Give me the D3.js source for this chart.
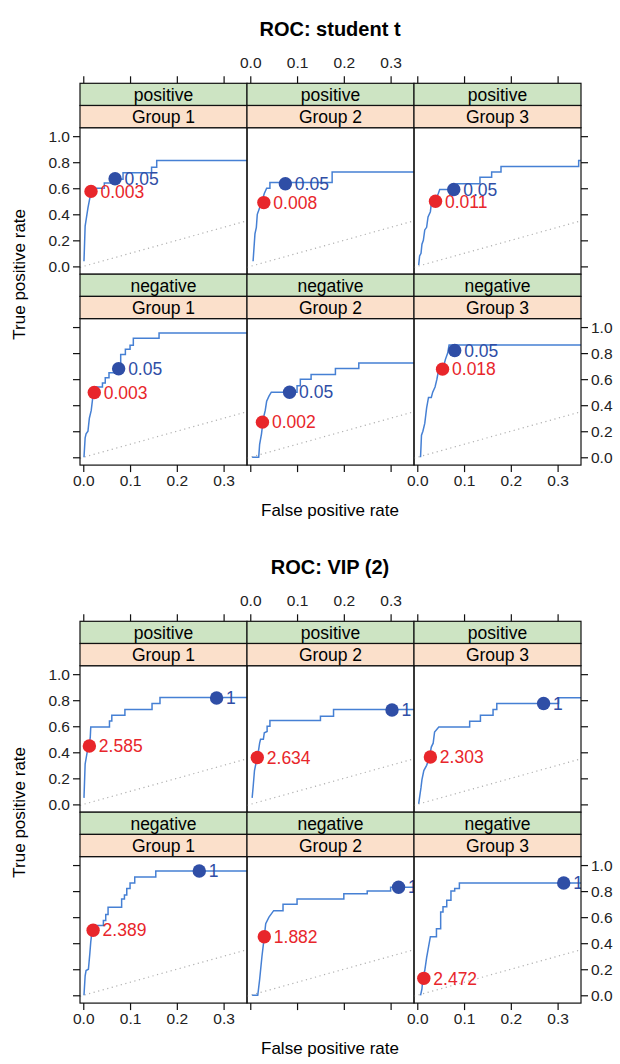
<!DOCTYPE html>
<html>
<head>
<meta charset="utf-8">
<script src="https://cdn.jsdelivr.net/npm/d3@7"></script>
<style>
  body { margin: 0; background: #fff; }
  text { font-family: "Liberation Sans", Arial, sans-serif; }
</style>
</head>
<body>
<div id="my_dataviz"></div>
<script>
// panel labels and axis ticks
var groups = ["Group 1", "Group 2", "Group 3"];
var signs = ["positive", "negative"];
var xTicks = [0, 0.1, 0.2, 0.3];
var yTicks = [0, 0.2, 0.4, 0.6, 0.8, 1.0];

// ROC: student t  -- curves as [false positive rate, true positive rate]
var tPos1 = [[0.0015,0.04],[0.004,0.31],[0.01,0.45],[0.017,0.58],[0.02,0.6],[0.045,0.6],[0.045,0.64],[0.06,0.64],[0.06,0.67],[0.085,0.67],[0.085,0.72],[0.146,0.72],[0.146,0.762],[0.157,0.762],[0.157,0.813],[0.35,0.813]];
var tPos2 = [[0.006,0.04],[0.01,0.25],[0.013,0.3],[0.015,0.4],[0.02,0.45],[0.025,0.5],[0.03,0.56],[0.035,0.6],[0.042,0.6],[0.042,0.645],[0.175,0.645],[0.175,0.725],[0.35,0.725]];
var tPos3 = [[0.003,0.01],[0.005,0.08],[0.008,0.1],[0.01,0.17],[0.013,0.2],[0.016,0.28],[0.02,0.3],[0.023,0.38],[0.028,0.42],[0.03,0.48],[0.035,0.5],[0.04,0.52],[0.045,0.56],[0.048,0.59],[0.085,0.59],[0.085,0.635],[0.134,0.635],[0.134,0.685],[0.159,0.685],[0.159,0.724],[0.179,0.724],[0.179,0.767],[0.345,0.767],[0.345,0.813],[0.35,0.813]];
var tNeg1 = [[0.0015,0],[0.004,0.15],[0.006,0.18],[0.01,0.2],[0.013,0.3],[0.017,0.36],[0.02,0.45],[0.023,0.54],[0.041,0.54],[0.041,0.57],[0.047,0.57],[0.047,0.61],[0.055,0.61],[0.055,0.65],[0.068,0.65],[0.068,0.68],[0.08,0.72],[0.08,0.79],[0.09,0.79],[0.09,0.83],[0.1,0.83],[0.1,0.86],[0.107,0.86],[0.107,0.915],[0.162,0.915],[0.162,0.954],[0.35,0.954]];
var tNeg2 = [[0.004,0],[0.018,0],[0.02,0.1],[0.024,0.18],[0.028,0.3],[0.032,0.36],[0.035,0.43],[0.04,0.47],[0.045,0.5],[0.1,0.5],[0.1,0.55],[0.107,0.55],[0.107,0.6],[0.13,0.6],[0.13,0.635],[0.182,0.635],[0.182,0.682],[0.232,0.682],[0.232,0.725],[0.35,0.725]];
var tNeg3 = [[0.007,0],[0.009,0.17],[0.012,0.2],[0.016,0.26],[0.02,0.38],[0.024,0.46],[0.03,0.46],[0.033,0.5],[0.038,0.54],[0.042,0.6],[0.045,0.66],[0.055,0.68],[0.06,0.75],[0.065,0.8],[0.068,0.862],[0.35,0.862]];
var tRed = [[0.0165,0.576],[0.029,0.49],[0.039,0.5],[0.0235,0.497],[0.026,0.27],[0.054,0.677]];
var tRedLab = ["0.003","0.008","0.011","0.003","0.002","0.018"];
var tBlue = [[0.068,0.673],[0.075,0.635],[0.078,0.59],[0.0756,0.68],[0.084,0.5],[0.08,0.82]];
var tBlueLab = ["0.05","0.05","0.05","0.05","0.05","0.05"];

// ROC: VIP (2)
var vPos1 = [[0.0015,0.05],[0.004,0.31],[0.009,0.415],[0.013,0.45],[0.015,0.52],[0.016,0.595],[0.056,0.595],[0.056,0.64],[0.061,0.64],[0.061,0.685],[0.089,0.685],[0.089,0.728],[0.147,0.728],[0.147,0.775],[0.164,0.775],[0.164,0.82],[0.35,0.82]];
var vPos2 = [[0.004,0.05],[0.006,0.13],[0.009,0.26],[0.013,0.33],[0.017,0.4],[0.02,0.47],[0.022,0.5],[0.028,0.5],[0.03,0.55],[0.036,0.56],[0.036,0.6],[0.042,0.6],[0.042,0.645],[0.15,0.645],[0.15,0.677],[0.178,0.677],[0.178,0.728],[0.35,0.728]];
var vPos3 = [[0.003,0.005],[0.005,0.056],[0.008,0.13],[0.01,0.19],[0.014,0.26],[0.02,0.3],[0.026,0.36],[0.03,0.44],[0.034,0.47],[0.037,0.556],[0.046,0.595],[0.112,0.595],[0.112,0.638],[0.135,0.638],[0.135,0.685],[0.162,0.685],[0.162,0.728],[0.17,0.728],[0.17,0.775],[0.302,0.775],[0.302,0.818],[0.35,0.818]];
var vNeg1 = [[0.0015,0],[0.004,0.15],[0.006,0.19],[0.011,0.2],[0.014,0.32],[0.016,0.41],[0.019,0.5],[0.021,0.536],[0.043,0.536],[0.043,0.575],[0.048,0.575],[0.048,0.62],[0.053,0.62],[0.053,0.677],[0.082,0.677],[0.082,0.74],[0.088,0.74],[0.088,0.77],[0.093,0.77],[0.093,0.82],[0.1,0.82],[0.1,0.862],[0.11,0.862],[0.11,0.908],[0.155,0.908],[0.155,0.954],[0.35,0.954]];
var vNeg2 = [[0.004,0],[0.016,0],[0.02,0.12],[0.025,0.3],[0.03,0.45],[0.033,0.55],[0.04,0.6],[0.05,0.65],[0.07,0.65],[0.07,0.7],[0.1,0.7],[0.1,0.74],[0.2,0.74],[0.2,0.78],[0.25,0.78],[0.25,0.8],[0.3,0.8],[0.3,0.83],[0.35,0.83]];
var vNeg3 = [[0.007,0],[0.01,0.05],[0.012,0.13],[0.016,0.19],[0.02,0.29],[0.024,0.37],[0.028,0.45],[0.041,0.45],[0.041,0.51],[0.05,0.51],[0.05,0.64],[0.055,0.64],[0.055,0.68],[0.063,0.68],[0.063,0.73],[0.072,0.73],[0.072,0.8],[0.08,0.8],[0.08,0.82],[0.09,0.82],[0.09,0.862],[0.35,0.862]];
var vRed = [[0.013,0.448],[0.015,0.36],[0.028,0.364],[0.021,0.5],[0.03,0.45],[0.014,0.13]];
var vRedLab = ["2.585","2.634","2.303","2.389","1.882","2.472"];
var vBlue = [[0.285,0.817],[0.303,0.725],[0.27,0.775],[0.248,0.954],[0.317,0.83],[0.313,0.862]];
var vBlueLab = ["1","1","1","1","1","1"];

// set the dimensions of the lattice
var width = 620, height = 1064;
var panelW = 167, panelH = 146.5, stripH = 22.2;
var left0 = 80, stripTop0 = 83.3, chartStep = 538;

var svg = d3.select("#my_dataviz").append("svg")
    .attr("width", width)
    .attr("height", height);

svg.append("rect").attr("width", width).attr("height", height).attr("fill", "#fff");

// panel scales
var x = d3.scaleLinear().domain([-0.007, 0.35]).range([0, panelW]);
var y = d3.scaleLinear().domain([-0.06, 1.065]).range([panelH, 0]);
var fmt = d3.format(".1f");

var line = d3.line()
    .x(function(d) { return x(d[0]); })
    .y(function(d) { return y(d[1]); });

function drawChart(oy, title, curves, reds, redLab, blues, blueLab, id) {
  var g = svg.append("g").attr("transform", "translate(0," + oy + ")");

  // title
  g.append("text")
    .attr("x", 330).attr("y", 36)
    .attr("text-anchor", "middle")
    .style("font-size", "20px").style("font-weight", "bold")
    .text(title);

  // axis titles
  g.append("text")
    .attr("x", 330).attr("y", 516)
    .attr("text-anchor", "middle")
    .style("font-size", "17px")
    .text("False positive rate");
  g.append("text")
    .attr("transform", "translate(25," + (stripTop0 + 191) + ") rotate(-90)")
    .attr("text-anchor", "middle")
    .style("font-size", "17px")
    .text("True positive rate");

  signs.forEach(function(s, r) {
    groups.forEach(function(grp, c) {
      var px = left0 + c * panelW;
      var sy = stripTop0 + r * (2 * stripH + panelH);
      var py = sy + 2 * stripH;
      var k = r * 3 + c;
      var p = g.append("g").attr("transform", "translate(" + px + "," + py + ")");

      // strips
      g.append("rect").attr("x", px).attr("y", sy).attr("width", panelW).attr("height", stripH)
        .attr("fill", "#cde4c3").attr("stroke", "#111").attr("stroke-width", 1.2);
      g.append("rect").attr("x", px).attr("y", sy + stripH).attr("width", panelW).attr("height", stripH)
        .attr("fill", "#fbe0cb").attr("stroke", "#111").attr("stroke-width", 1.2);
      g.append("text").attr("x", px + panelW / 2).attr("y", sy + stripH / 2).attr("dy", "0.36em")
        .attr("text-anchor", "middle").style("font-size", "17.5px").text(s);
      g.append("text").attr("x", px + panelW / 2).attr("y", sy + 1.5 * stripH).attr("dy", "0.36em")
        .attr("text-anchor", "middle").style("font-size", "17.5px").text(grp);

      var clipId = "clip" + id + k;
      p.append("clipPath").attr("id", clipId)
        .append("rect").attr("width", panelW).attr("height", panelH);
      var inner = p.append("g").attr("clip-path", "url(#" + clipId + ")");

      // diagonal reference
      inner.append("line")
        .attr("x1", x(-0.007)).attr("y1", y(-0.007))
        .attr("x2", x(0.35)).attr("y2", y(0.35))
        .attr("stroke", "#b0b0b0").attr("stroke-width", 1.2)
        .attr("stroke-dasharray", "1.2,3.5");

      // the ROC curve
      inner.append("path")
        .datum(curves[k])
        .attr("d", line)
        .attr("fill", "none")
        .attr("stroke", "#4680d4")
        .attr("stroke-width", 1.5);

      // cut-off points and labels
      [[reds[k], redLab[k], "#e8262b"], [blues[k], blueLab[k], "#2f4ea6"]].forEach(function(m) {
        inner.append("circle")
          .attr("cx", x(m[0][0])).attr("cy", y(m[0][1])).attr("r", 6.7)
          .attr("fill", m[2]);
        inner.append("text")
          .attr("x", x(m[0][0]) + 9.5).attr("y", y(m[0][1])).attr("dy", "0.36em")
          .attr("fill", m[2]).style("font-size", "17.5px")
          .text(m[1]);
      });

      // panel border
      p.append("rect").attr("width", panelW).attr("height", panelH)
        .attr("fill", "none").attr("stroke", "#111").attr("stroke-width", 1.2);

      // axes, alternating labels like lattice
      if (c === 0) {
        var la = d3.axisLeft(y).tickValues(yTicks).tickSize(7).tickPadding(3)
          .tickFormat(r === 0 ? fmt : "");
        p.append("g").attr("class", "ax").call(la);
      }
      if (c === 2) {
        var ra = d3.axisRight(y).tickValues(yTicks).tickSize(7).tickPadding(3)
          .tickFormat(r === 1 ? fmt : "");
        p.append("g").attr("class", "ax").attr("transform", "translate(" + panelW + ",0)").call(ra);
      }
      if (r === 0) {
        var ta = d3.axisTop(x).tickValues(xTicks).tickSize(7).tickPadding(8)
          .tickFormat(c === 1 ? fmt : "");
        p.append("g").attr("class", "ax").attr("transform", "translate(0," + (-2 * stripH) + ")").call(ta);
      }
      if (r === 1) {
        var ba = d3.axisBottom(x).tickValues(xTicks).tickSize(7).tickPadding(3)
          .tickFormat(c !== 1 ? fmt : "");
        p.append("g").attr("class", "ax").attr("transform", "translate(0," + panelH + ")").call(ba);
      }
    });
  });

  g.selectAll(".ax .domain").remove();
  g.selectAll(".ax line").attr("stroke", "#111").attr("stroke-width", 1.2);
  g.selectAll(".ax text").style("font-size", "15.5px").attr("fill", "#222")
    .style("font-family", "'Liberation Sans', Arial, sans-serif");
}

drawChart(0, "ROC: student t", [tPos1, tPos2, tPos3, tNeg1, tNeg2, tNeg3], tRed, tRedLab, tBlue, tBlueLab, "t");
drawChart(chartStep, "ROC: VIP (2)", [vPos1, vPos2, vPos3, vNeg1, vNeg2, vNeg3], vRed, vRedLab, vBlue, vBlueLab, "v");
</script>
</body>
</html>
